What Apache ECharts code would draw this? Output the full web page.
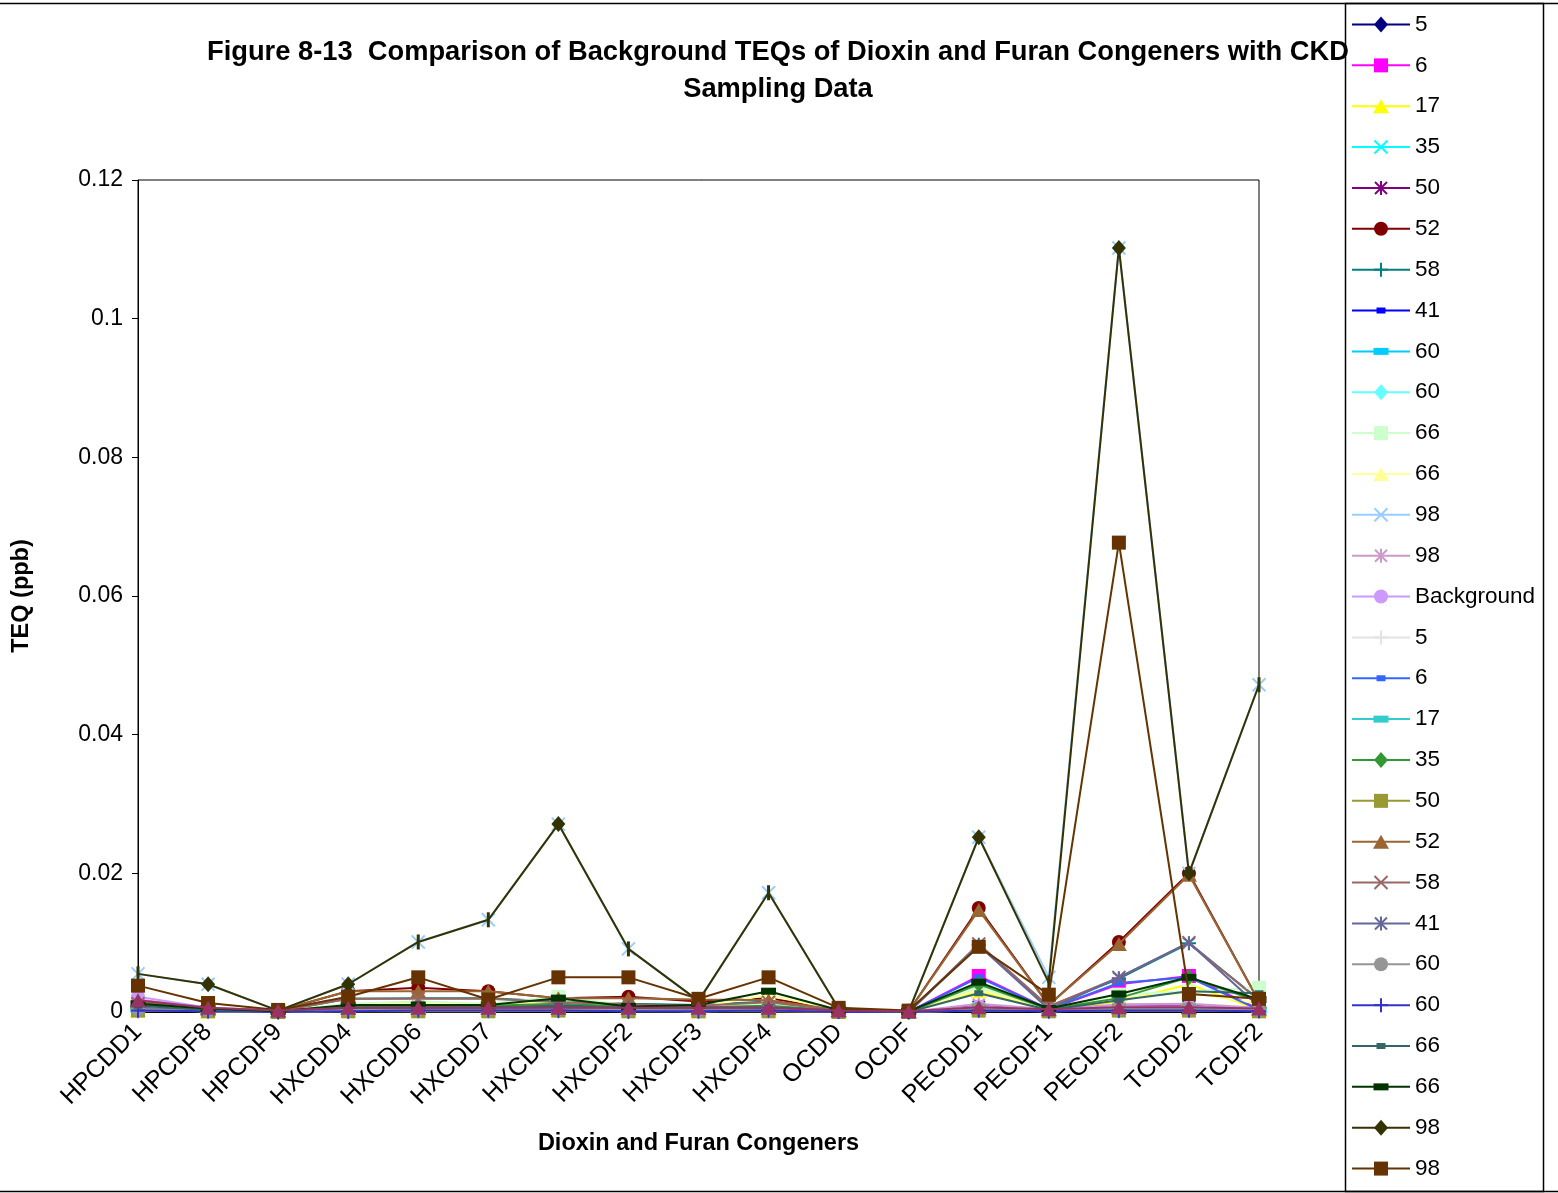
<!DOCTYPE html>
<html>
<head>
<meta charset="utf-8">
<title>Figure 8-13</title>
<script src="https://cdn.jsdelivr.net/npm/echarts@6/dist/echarts.min.js"></script>
<style>
  html, body { margin: 0; padding: 0; background: #fff; }
  #chart { width: 1558px; height: 1193px; }
</style>
</head>
<body>
<div id="chart"></div>
<script>
// Congeners along the category axis
const congeners = ['HPCDD1', 'HPCDF8', 'HPCDF9', 'HXCDD4', 'HXCDD6', 'HXCDD7', 'HXCDF1', 'HXCDF2',
  'HXCDF3', 'HXCDF4', 'OCDD', 'OCDF', 'PECDD1', 'PECDF1', 'PECDF2', 'TCDD2', 'TCDF2'];

// Sample names, in plotting order
const sampleNames = ['5', '6', '17', '35', '50', '52', '58', '41', '60', '60', '66', '66', '98', '98', 'Background',
  '5', '6', '17', '35', '50', '52', '58', '41', '60', '60', '66', '66', '98', '98', 'Background'];

// TEQ values (ppb) per sample, one value per congener
const s5a    = [0.0002, 0.0001, 0.0000, 0.0001, 0.0002, 0.0002, 0.0002, 0.0001, 0.0001, 0.0002, 0.0001, 0.0000, 0.0003, 0.0001, 0.0002, 0.0003, 0.0002];
const s6a    = [0.0006, 0.0002, 0.0001, 0.0003, 0.0004, 0.0004, 0.0005, 0.0003, 0.0002, 0.0004, 0.0001, 0.0000, 0.0052, 0.0004, 0.0040, 0.0052, 0.0004];
const s17a   = [0.0003, 0.0001, 0.0000, 0.0002, 0.0003, 0.0003, 0.0003, 0.0002, 0.0001, 0.0003, 0.0001, 0.0000, 0.0030, 0.0002, 0.0015, 0.0040, 0.0003];
const s35a   = [0.0004, 0.0002, 0.0000, 0.0002, 0.0003, 0.0003, 0.0004, 0.0003, 0.0002, 0.0004, 0.0001, 0.0000, 0.0006, 0.0002, 0.0005, 0.0006, 0.0003];
const s50a   = [0.0009, 0.0003, 0.0001, 0.0005, 0.0006, 0.0006, 0.0006, 0.0005, 0.0004, 0.0006, 0.0001, 0.0000, 0.0009, 0.0003, 0.0008, 0.0009, 0.0004];
const s52a   = [0.0015, 0.0005, 0.0002, 0.0030, 0.0035, 0.0030, 0.0020, 0.0022, 0.0015, 0.0020, 0.0003, 0.0001, 0.0150, 0.0010, 0.0101, 0.0200, 0.0015];
const s58a   = [0.0008, 0.0003, 0.0001, 0.0019, 0.0020, 0.0020, 0.0015, 0.0012, 0.0010, 0.0015, 0.0002, 0.0000, 0.0097, 0.0008, 0.0048, 0.0099, 0.0018];
const s41a   = [0.0003, 0.0002, 0.0001, 0.0002, 0.0002, 0.0002, 0.0012, 0.0002, 0.0002, 0.0002, 0.0001, 0.0000, 0.0004, 0.0001, 0.0004, 0.0005, 0.0002];
const s60a   = [0.0005, 0.0002, 0.0001, 0.0003, 0.0004, 0.0004, 0.0005, 0.0004, 0.0003, 0.0004, 0.0001, 0.0000, 0.0005, 0.0002, 0.0005, 0.0005, 0.0003];
const s60b   = [0.0004, 0.0002, 0.0001, 0.0003, 0.0003, 0.0003, 0.0004, 0.0003, 0.0003, 0.0003, 0.0001, 0.0000, 0.0004, 0.0002, 0.0004, 0.0004, 0.0003];
const s66a   = [0.0008, 0.0003, 0.0001, 0.0012, 0.0015, 0.0012, 0.0022, 0.0010, 0.0008, 0.0012, 0.0002, 0.0000, 0.0035, 0.0005, 0.0025, 0.0030, 0.0035];
const s66b   = [0.0006, 0.0003, 0.0001, 0.0010, 0.0012, 0.0010, 0.0015, 0.0008, 0.0007, 0.0025, 0.0002, 0.0000, 0.0032, 0.0004, 0.0020, 0.0028, 0.0012];
const s98a   = [0.0055, 0.0040, 0.0002, 0.0040, 0.0101, 0.0133, 0.0271, 0.0091, 0.0016, 0.0172, 0.0005, 0.0001, 0.0252, 0.0050, 0.1102, 0.0200, 0.0472];
const s98b   = [0.0018, 0.0006, 0.0002, 0.0008, 0.0009, 0.0009, 0.0008, 0.0007, 0.0006, 0.0008, 0.0002, 0.0000, 0.0012, 0.0004, 0.0011, 0.0012, 0.0006];
const bgA    = [0.0022, 0.0006, 0.0002, 0.0006, 0.0006, 0.0006, 0.0006, 0.0005, 0.0005, 0.0005, 0.0001, 0.0000, 0.0008, 0.0003, 0.0008, 0.0008, 0.0005];
const s5c    = [0.0003, 0.0001, 0.0000, 0.0002, 0.0002, 0.0002, 0.0003, 0.0002, 0.0001, 0.0002, 0.0001, 0.0000, 0.0003, 0.0001, 0.0003, 0.0003, 0.0002];
const s6c    = [0.0005, 0.0002, 0.0001, 0.0003, 0.0004, 0.0004, 0.0005, 0.0003, 0.0002, 0.0004, 0.0001, 0.0000, 0.0050, 0.0004, 0.0042, 0.0050, 0.0003];
const s17c   = [0.0004, 0.0002, 0.0001, 0.0003, 0.0003, 0.0003, 0.0004, 0.0003, 0.0002, 0.0003, 0.0001, 0.0000, 0.0005, 0.0002, 0.0004, 0.0005, 0.0003];
const s35c   = [0.0012, 0.0004, 0.0001, 0.0008, 0.0009, 0.0009, 0.0012, 0.0008, 0.0007, 0.0009, 0.0002, 0.0000, 0.0040, 0.0004, 0.0020, 0.0050, 0.0015];
const s50c   = [0.0002, 0.0001, 0.0000, 0.0001, 0.0001, 0.0001, 0.0002, 0.0001, 0.0001, 0.0001, 0.0000, 0.0000, 0.0002, 0.0001, 0.0002, 0.0002, 0.0001];
const s52c   = [0.0015, 0.0005, 0.0002, 0.0030, 0.0030, 0.0030, 0.0020, 0.0020, 0.0018, 0.0017, 0.0003, 0.0001, 0.0147, 0.0010, 0.0098, 0.0198, 0.0015];
const s58c   = [0.0012, 0.0004, 0.0001, 0.0019, 0.0019, 0.0019, 0.0014, 0.0011, 0.0009, 0.0014, 0.0002, 0.0000, 0.0098, 0.0008, 0.0050, 0.0100, 0.0017];
const s41c   = [0.0006, 0.0002, 0.0001, 0.0004, 0.0005, 0.0005, 0.0005, 0.0004, 0.0003, 0.0004, 0.0001, 0.0000, 0.0096, 0.0004, 0.0050, 0.0100, 0.0008];
const s60c   = [0.0004, 0.0002, 0.0001, 0.0003, 0.0003, 0.0003, 0.0004, 0.0003, 0.0002, 0.0003, 0.0001, 0.0000, 0.0005, 0.0002, 0.0004, 0.0005, 0.0003];
const s60d   = [0.0002, 0.0001, 0.0000, 0.0001, 0.0002, 0.0002, 0.0002, 0.0001, 0.0001, 0.0002, 0.0000, 0.0000, 0.0002, 0.0001, 0.0002, 0.0002, 0.0001];
const s66c   = [0.0009, 0.0003, 0.0001, 0.0006, 0.0007, 0.0007, 0.0009, 0.0006, 0.0006, 0.0007, 0.0002, 0.0000, 0.0027, 0.0003, 0.0017, 0.0030, 0.0027];
const s66d   = [0.0012, 0.0005, 0.0001, 0.0010, 0.0010, 0.0010, 0.0020, 0.0008, 0.0010, 0.0030, 0.0003, 0.0001, 0.0043, 0.0005, 0.0026, 0.0050, 0.0018];
const s98c   = [0.0055, 0.0040, 0.0002, 0.0040, 0.0101, 0.0133, 0.0271, 0.0091, 0.0016, 0.0172, 0.0005, 0.0001, 0.0252, 0.0042, 0.1102, 0.0200, 0.0472];
const s98d   = [0.0038, 0.0013, 0.0003, 0.0022, 0.0050, 0.0018, 0.0050, 0.0050, 0.0019, 0.0050, 0.0006, 0.0002, 0.0094, 0.0025, 0.0677, 0.0026, 0.0019];
const bgC    = [0.0017, 0.0006, 0.0002, 0.0006, 0.0006, 0.0006, 0.0006, 0.0006, 0.0006, 0.0006, 0.0002, 0.0001, 0.0007, 0.0004, 0.0007, 0.0007, 0.0005];

const seriesValues = [s5a, s6a, s17a, s35a, s50a, s52a, s58a, s41a, s60a, s60b, s66a, s66b, s98a, s98b, bgA,
  s5c, s6c, s17c, s35c, s50c, s52c, s58c, s41c, s60c, s60d, s66c, s66d, s98c, s98d, bgC];

// Y axis tick values
const yTicks = [0, 0.02, 0.04, 0.06, 0.08, 0.1, 0.12];

// Marker shapes (stroke-only shapes are drawn with a border)
const X_MARK = 'path://M0,0L10,10M10,0L0,10';
const STAR_MARK = 'path://M0,0L10,10M10,0L0,10M5,-1L5,11';
const PLUS_MARK = 'path://M5,0L5,10M0,5L10,5';
const markers = {
  diamond: { symbol: 'diamond', size: [14, 16], stroke: false },
  square: { symbol: 'rect', size: 14, stroke: false },
  triangle: { symbol: 'triangle', size: [16, 14], stroke: false },
  circle: { symbol: 'circle', size: 14, stroke: false },
  x: { symbol: X_MARK, size: 13, stroke: true },
  star: { symbol: STAR_MARK, size: 12, stroke: true },
  plus: { symbol: PLUS_MARK, size: 14, stroke: true },
  dashS: { symbol: 'rect', size: [9, 6], stroke: false },
  dashL: { symbol: 'rect', size: [15, 7], stroke: false },
  bar: { symbol: 'rect', size: [3, 15], stroke: false }
};

// Colour and marker per series
const seriesStyles = [
  ['#000080', 'diamond'], ['#FF00FF', 'square'], ['#FFFF00', 'triangle'], ['#00FFFF', 'x'],
  ['#800080', 'star'], ['#800000', 'circle'], ['#008080', 'plus'], ['#0000FF', 'dashS'],
  ['#00CCFF', 'dashL'], ['#66FFFF', 'diamond'], ['#CCFFCC', 'square'], ['#FFFF99', 'triangle'],
  ['#99CCFF', 'x'], ['#CC99CC', 'star'], ['#CC99FF', 'circle'], ['#E3E3E3', 'plus'],
  ['#3366FF', 'dashS'], ['#33CCCC', 'dashL'], ['#339933', 'diamond'], ['#999933', 'square'],
  ['#996633', 'triangle'], ['#996666', 'x'], ['#666699', 'star'], ['#969696', 'circle'],
  ['#3333CC', 'plus'], ['#336666', 'dashS'], ['#003300', 'dashL'], ['#333300', 'diamond'],
  ['#663300', 'square'], ['#993366', 'triangle']
];

// The dark olive "98" series alternates between diamonds and short bars
const olivePointMarks = ['bar', 'diamond', 'bar', 'diamond', 'bar', 'bar', 'diamond', 'bar', 'bar',
  'bar', 'bar', 'bar', 'diamond', 'bar', 'diamond', 'diamond', 'bar'];
const OLIVE_INDEX = 27;

const FONT = 'Liberation Sans, Arial, sans-serif';

const series = seriesValues.map((vals, i) => {
  const [color, kind] = seriesStyles[i];
  const m = markers[kind];
  const data = i === OLIVE_INDEX
    ? vals.map((v, j) => ({ value: v, symbol: markers[olivePointMarks[j]].symbol, symbolSize: markers[olivePointMarks[j]].size }))
    : vals;
  return {
    name: sampleNames[i],
    type: 'line',
    data: data,
    symbol: m.symbol,
    symbolSize: m.size,
    showSymbol: true,
    showAllSymbol: true,
    lineStyle: { color: color, width: 2 },
    itemStyle: m.stroke
      ? { color: color, borderColor: color, borderWidth: 2 }
      : { color: color, borderWidth: 0 },
    emphasis: { disabled: true },
    z: 2 + i * 0.01
  };
});

// Legend rows: every series except the trailing one
const legendCount = 29;
const legendLeft = 1352, legendTop = 24.5, legendStep = 40.86;

function legendMarker(kind, color, cx, cy) {
  const m = markers[kind];
  const [w, h] = Array.isArray(m.size) ? m.size : [m.size, m.size];
  const base = { silent: true, z: 10 };
  if (kind === 'diamond') {
    return [Object.assign({ type: 'polygon', shape: { points: [[cx, cy - h / 2], [cx + w / 2, cy], [cx, cy + h / 2], [cx - w / 2, cy]] }, style: { fill: color } }, base)];
  }
  if (kind === 'triangle') {
    return [Object.assign({ type: 'polygon', shape: { points: [[cx, cy - h / 2], [cx + w / 2, cy + h / 2], [cx - w / 2, cy + h / 2]] }, style: { fill: color } }, base)];
  }
  if (kind === 'circle') {
    return [Object.assign({ type: 'circle', shape: { cx: cx, cy: cy, r: w / 2 }, style: { fill: color } }, base)];
  }
  if (kind === 'square' || kind === 'dashS' || kind === 'dashL') {
    return [Object.assign({ type: 'rect', shape: { x: cx - w / 2, y: cy - h / 2, width: w, height: h }, style: { fill: color } }, base)];
  }
  const segs = [];
  const hw = w / 2, hh = h / 2;
  if (kind === 'x' || kind === 'star') {
    segs.push([cx - hw, cy - hh, cx + hw, cy + hh], [cx + hw, cy - hh, cx - hw, cy + hh]);
  }
  if (kind === 'star') segs.push([cx, cy - hh - 1, cx, cy + hh + 1]);
  if (kind === 'plus') segs.push([cx, cy - hh, cx, cy + hh], [cx - hw, cy, cx + hw, cy]);
  return segs.map(s => Object.assign({ type: 'line', shape: { x1: s[0], y1: s[1], x2: s[2], y2: s[3] }, style: { stroke: color, lineWidth: 2 } }, base));
}

let legendGraphics = [];
for (let i = 0; i < legendCount; i++) {
  const [color, kind] = seriesStyles[i];
  const cy = legendTop + i * legendStep;
  legendGraphics.push({
    type: 'line', silent: true, z: 9,
    shape: { x1: legendLeft, y1: cy, x2: legendLeft + 58, y2: cy },
    style: { stroke: color, lineWidth: 2 }
  });
  legendGraphics = legendGraphics.concat(legendMarker(kind, color, legendLeft + 29, cy));
  legendGraphics.push({
    type: 'text', silent: true, z: 10,
    x: legendLeft + 63, y: cy,
    style: { text: sampleNames[i], font: '22.5px ' + FONT, fill: '#000', verticalAlign: 'middle' }
  });
}

const chart = echarts.init(document.getElementById('chart'), null, { renderer: 'canvas' });

chart.setOption({
  animation: false,
  backgroundColor: '#fff',
  title: {
    text: 'Figure 8-13  Comparison of Background TEQs of Dioxin and Furan Congeners with CKD\nSampling Data',
    left: 773,
    top: 29,
    textAlign: 'center',
    textStyle: { fontFamily: FONT, fontWeight: 'bold', fontSize: 27.3, lineHeight: 37, color: '#000' }
  },
  legend: { show: false },
  grid: {
    left: 138, top: 180, right: 299, bottom: 181,
    show: true, borderColor: '#000', borderWidth: 1, backgroundColor: 'transparent'
  },
  xAxis: {
    type: 'category',
    data: congeners,
    boundaryGap: false,
    name: 'Dioxin and Furan Congeners',
    nameLocation: 'middle',
    nameGap: 120,
    nameTextStyle: { fontFamily: FONT, fontWeight: 'bold', fontSize: 23.5, color: '#000' },
    axisLine: { lineStyle: { color: '#000', width: 1 } },
    axisTick: { show: false },
    axisLabel: { rotate: 45, margin: 16, interval: 0, fontFamily: FONT, fontSize: 25, color: '#000' },
    splitLine: { show: false }
  },
  yAxis: {
    type: 'value',
    min: yTicks[0],
    max: yTicks[yTicks.length - 1],
    interval: yTicks[1] - yTicks[0],
    name: 'TEQ (ppb)',
    nameLocation: 'middle',
    nameRotate: 90,
    nameGap: 104,
    nameTextStyle: { fontFamily: FONT, fontWeight: 'bold', fontSize: 23.5, color: '#000' },
    axisLine: { show: true, lineStyle: { color: '#000', width: 1 } },
    axisTick: { show: true, inside: false, length: 6, lineStyle: { color: '#000' } },
    axisLabel: {
      margin: 15, fontFamily: FONT, fontSize: 23, color: '#000',
      formatter: v => (Math.abs(v) < 1e-12 ? '0' : String(+v.toFixed(2)))
    },
    splitLine: { show: false }
  },
  series: series,
  graphic: [
    { type: 'line', shape: { x1: 0, y1: 3.5, x2: 1558, y2: 3.5 }, style: { stroke: '#000', lineWidth: 1.5 }, silent: true },
    { type: 'line', shape: { x1: 0, y1: 1191.5, x2: 1558, y2: 1191.5 }, style: { stroke: '#000', lineWidth: 1.5 }, silent: true },
    { type: 'rect', shape: { x: 1345.5, y: 3.5, width: 198, height: 1188 }, style: { fill: 'none', stroke: '#000', lineWidth: 1.5 }, silent: true }
  ].concat(legendGraphics)
});
</script>
</body>
</html>
